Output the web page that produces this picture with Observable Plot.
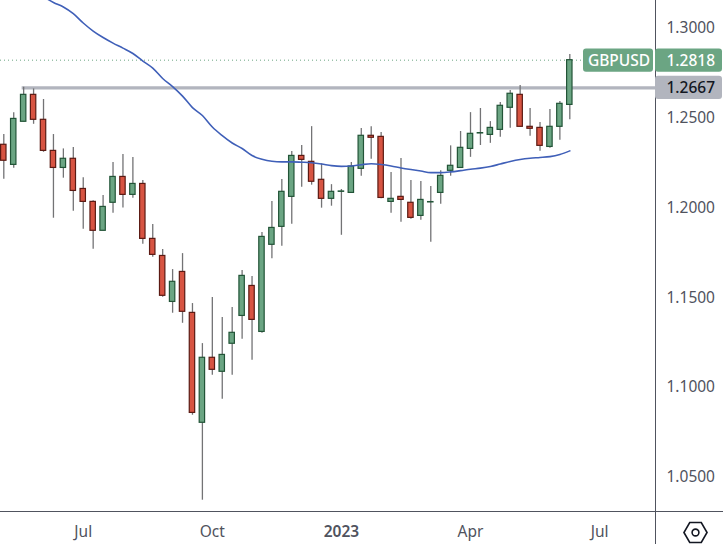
<!DOCTYPE html>
<html>
<head>
<meta charset="utf-8">
<script src="https://cdn.jsdelivr.net/npm/d3@7"></script>
<script src="https://cdn.jsdelivr.net/npm/@observablehq/plot@0.6"></script>
<style>html,body{margin:0;padding:0;background:#fff}svg{display:block}</style>
</head>
<body>
<div id="chart"></div>
<script>
const symbolName = "GBPUSD";
const lastPrice = 1.2818;
const levelPrice = 1.2667;
const firstWeek = "2022-05-09";
const opens = [1.2347,1.2235,1.2475,1.2625,1.2486,1.2313,1.2218,1.2269,1.2101,1.2029,1.1868,1.2024,1.2168,1.2068,1.2129,1.1823,1.1728,1.1472,1.1639,1.1411,1.0799,1.1161,1.1083,1.1239,1.1394,1.1561,1.1305,1.1790,1.1890,1.2057,1.2285,1.2252,1.2152,1.2046,1.2085,1.2079,1.2213,1.2397,1.2391,1.2029,1.2057,1.2024,1.1951,1.2026,1.2079,1.2202,1.2218,1.2324,1.2410,1.2402,1.2430,1.2553,1.2625,1.2447,1.2441,1.2335,1.2447,1.2569];
const highs = [1.2404,1.2525,1.2667,1.2658,1.2599,1.2404,1.2324,1.2332,1.2164,1.2036,1.2064,1.2248,1.2293,1.2276,1.2148,1.1903,1.1764,1.1652,1.1741,1.1463,1.1240,1.1496,1.1385,1.1441,1.1647,1.1613,1.1858,1.2031,1.2153,1.2309,1.2343,1.2448,1.2241,1.2125,1.2098,1.2248,1.2437,1.2448,1.2415,1.2192,1.2270,1.2148,1.2142,1.2114,1.2203,1.2341,1.2421,1.2526,1.2549,1.2476,1.2582,1.2649,1.2677,1.2549,1.2471,1.2543,1.2588,1.2849];
const lows = [1.2155,1.2216,1.2475,1.2461,1.2305,1.1938,1.2161,1.1977,1.1877,1.1765,1.1868,1.1966,1.1995,1.2049,1.1793,1.1721,1.1498,1.1409,1.1353,1.0841,1.0368,1.1064,1.0930,1.1064,1.1264,1.1147,1.1298,1.1713,1.1782,1.1904,1.2110,1.2122,1.1994,1.2005,1.1843,1.2079,1.2172,1.2266,1.2046,1.1966,1.1916,1.1932,1.1927,1.1804,1.2016,1.2172,1.2218,1.2277,1.2343,1.2355,1.2389,1.2439,1.2447,1.2394,1.2311,1.2328,1.2372,1.2487];
const closes = [1.2258,1.2491,1.2625,1.2486,1.2313,1.2218,1.2269,1.2090,1.2029,1.1868,1.2001,1.2168,1.2068,1.2129,1.1823,1.1734,1.1506,1.1584,1.1417,1.0854,1.1161,1.1094,1.1177,1.1300,1.1617,1.1372,1.1834,1.1884,1.2085,1.2285,1.2263,1.2141,1.2046,1.2085,1.2087,1.2226,1.2397,1.2386,1.2051,1.2046,1.2040,1.1940,1.2040,1.2028,1.2174,1.2230,1.2330,1.2408,1.2412,1.2441,1.2564,1.2631,1.2447,1.2436,1.2341,1.2447,1.2575,1.2818];
const averages = [null,null,null,null,1.3172,1.3139,1.3114,1.3077,1.3025,1.2980,1.2944,1.2913,1.2885,1.2855,1.2813,1.2774,1.2716,1.2671,1.2618,1.2554,1.2510,1.2446,1.2398,1.2357,1.2326,1.2287,1.2266,1.2255,1.2252,1.2252,1.2250,1.2247,1.2240,1.2231,1.2227,1.2229,1.2236,1.2241,1.2237,1.2229,1.2218,1.2209,1.2201,1.2192,1.2192,1.2196,1.2203,1.2211,1.2217,1.2226,1.2240,1.2254,1.2265,1.2272,1.2276,1.2281,1.2293,1.2313];
const priceTicks = [1.05,1.10,1.15,1.20,1.25,1.30];
const monthTickDates = ["2022-07-04","2022-10-03","2023-04-03","2023-07-03"];
const monthTickLabels = ["Jul","Oct","Apr","Jul"];
const yearTickDates = ["2023-01-02"];
const yearTickLabels = ["2023"];

const WEEK = 7*24*3600*1000;
const t0 = +new Date(firstWeek+"T00:00:00Z");
const candles = opens.map((o,i)=>({date:new Date(t0+i*WEEK),o,h:highs[i],l:lows[i],c:closes[i],ma:averages[i]}));
const xStart = new Date(t0-0.332*WEEK), xEnd = new Date(t0+65.63*WEEK);
const yMin = 1.03051, yMax = 1.31503;
const greenFill="#6ba583", greenEdge="#225437", redFill="#d75442", redEdge="#5b1a13";
const axisColor="#50535e", tickColor="#50535e", levelColor="#b2b5be";
const font="'Noto Sans', sans-serif";
const monthLabel=new Map(monthTickDates.map((d,i)=>[+new Date(d+"T00:00:00Z"),monthTickLabels[i]]));
const yearLabel=new Map(yearTickDates.map((d,i)=>[+new Date(d+"T00:00:00Z"),yearTickLabels[i]]));
const toDates=a=>a.map(d=>new Date(d+"T00:00:00Z"));

const tag=(price,left,right,fill)=>Plot.rect([price],{x1:()=>xEnd,x2:()=>xEnd,y1:d=>d,y2:d=>d,insetLeft:left,insetRight:right,insetTop:-11.6,insetBottom:-11.6,dy:0.5,fill,rx:3,clip:false});

const plot=Plot.plot({
  width:723,height:544,
  marginLeft:0,marginRight:68,marginTop:0,marginBottom:33,
  style:{background:"#fff",fontFamily:font,fontSize:"15.5px",overflow:"visible"},
  x:{type:"utc",domain:[xStart,xEnd],axis:null},
  y:{domain:[yMin,yMax],axis:null},
  marks:[
    Plot.ruleY([lastPrice],{x1:()=>xStart,x2:()=>xEnd,stroke:greenFill,strokeWidth:1,strokeDasharray:"1,3"}),
    Plot.ruleY([levelPrice],{x1:()=>candles[2].date,x2:()=>xEnd,stroke:levelColor,strokeWidth:3.2,insetLeft:-1.5,dy:0.5}),
    Plot.ruleX(candles,{x:"date",y1:"l",y2:"h",stroke:"#737375",strokeWidth:1.3,clip:true}),
    Plot.rect(candles,{x1:"date",x2:"date",y1:"o",y2:"c",insetLeft:-2.7,insetRight:-2.7,
      fill:d=>d.c>=d.o?greenFill:redFill,stroke:d=>d.c>=d.o?greenEdge:redEdge,strokeWidth:1.2,clip:true}),
    Plot.line(candles.filter(d=>d.ma!=null),{x:"date",y:"ma",stroke:"#3f5fb8",strokeWidth:1.6,curve:"monotone-x",clip:true}),
    Plot.ruleX([xEnd],{stroke:axisColor,strokeWidth:1,insetBottom:-33}),
    Plot.ruleY([yMin],{stroke:axisColor,strokeWidth:1,insetRight:-68}),
    Plot.axisY(priceTicks,{anchor:"right",tickSize:0,tickPadding:11,dy:0.8,tickFormat:d=>d.toFixed(4),fill:tickColor,label:null}),
    Plot.axisX(toDates(monthTickDates),{anchor:"bottom",tickSize:0,tickPadding:14,tickFormat:d=>monthLabel.get(+d),fill:tickColor,label:null}),
    Plot.axisX(toDates(yearTickDates),{anchor:"bottom",tickSize:0,tickPadding:14,tickFormat:d=>yearLabel.get(+d),fill:tickColor,fontWeight:600,label:null}),
    tag(lastPrice,-72,2,greenFill),
    tag(lastPrice,0,-67,greenFill),
    tag(levelPrice,0,-67,levelColor),
    Plot.text([symbolName],{text:d=>d,x:()=>xEnd,y:()=>lastPrice,dx:-36.5,dy:1,fill:"#fff",fontWeight:500,clip:false}),
    Plot.text([lastPrice],{text:d=>d.toFixed(4),x:()=>xEnd,y:d=>d,dx:11,dy:1,textAnchor:"start",fill:"#fff",fontWeight:500}),
    Plot.text([levelPrice],{text:d=>d.toFixed(4),x:()=>xEnd,y:d=>d,dx:11,dy:1,textAnchor:"start",fill:"#131722",fontWeight:500}),
    Plot.dot([0],{frameAnchor:"bottom-right",dx:40,dy:21,symbol:"hexagon",r:10,rotate:90,stroke:"#131722",strokeWidth:1.6,fill:"none"}),
    Plot.dot([0],{frameAnchor:"bottom-right",dx:40,dy:21,r:3.4,stroke:"#131722",strokeWidth:1.6,fill:"none"})
  ]
});
document.getElementById("chart").appendChild(plot);
</script>
</body>
</html>
